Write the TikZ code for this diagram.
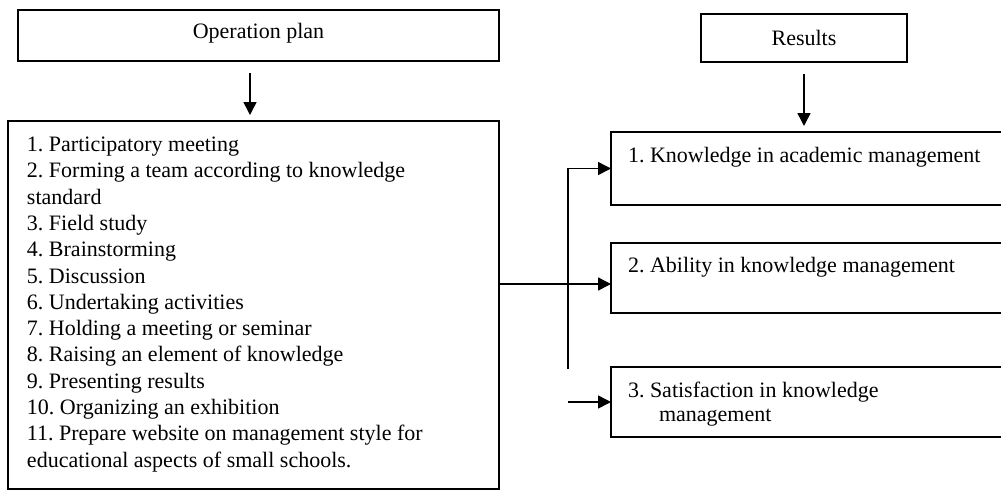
\documentclass[tikz,border=0pt]{standalone}
\usepackage{fontspec}
\setmainfont{Liberation Serif}
\usetikzlibrary{arrows.meta}
\begin{document}
\begin{tikzpicture}[x=1pt,y=-1pt,
  box/.style={draw, line width=1.5pt, inner sep=0pt, outer sep=0pt, anchor=north west},
  txt/.style={inner sep=0pt, outer sep=0pt, font=\fontsize{22pt}{26.3pt}\selectfont},
  arr/.style={line width=1.5pt, -{Triangle[length=13pt,width=13pt]}},
  ln/.style={line width=1.5pt}]
\clip (0,0) rectangle (1001,491);
% title boxes
\node[box, txt, minimum width=481pt, minimum height=51pt, text height=12pt, text depth=6pt] (op) at (18,10) {Operation plan};
\node[box, txt, minimum width=206pt, minimum height=48pt, text height=14.4pt, text depth=0pt] (res) at (701,14) {Results};
% plan box
\node[box, minimum width=491pt, minimum height=368pt] (plan) at (8,121) {};
\node[txt, anchor=north west, align=left] (plant) at (27,137) {%
1.\ Participatory meeting\\
2.\ Forming a team according to knowledge\\
standard\\
3.\ Field study\\
4.\ Brainstorming\\
5.\ Discussion\\
6.\ Undertaking activities\\
7.\ Holding a meeting or seminar\\
8.\ Raising an element of knowledge\\
9.\ Presenting results\\
10.\ Organizing an exhibition\\
11.\ Prepare website on management style for\\
educational aspects of small schools.};
% result boxes
\node[box, minimum width=400pt, minimum height=73pt] (r1) at (611,132) {};
\node[box, minimum width=400pt, minimum height=70pt] (r2) at (611,243) {};
\node[box, minimum width=400pt, minimum height=70pt] (r3) at (611,367) {};
\node[txt, anchor=base west] (t1) at (628,162) {1.\ Knowledge in academic management};
\node[txt, anchor=base west] (t2) at (628,272) {2.\ Ability in knowledge management};
\node[txt, anchor=north west, align=left, font=\fontsize{22pt}{24pt}\selectfont] (t3) at (628,382) {3.\ Satisfaction in knowledge\\\hspace*{31pt}management};
% connectors
\coordinate (opx) at (250,0);
\coordinate (my) at (0,284);
\coordinate (bus) at (568,369);
\coordinate (feed) at (568,0);
\draw[arr, shorten <=12pt, shorten >=6pt] (op.south -| opx) -- (plan.north -| opx);
\draw[arr, shorten <=12pt, shorten >=6pt] (res.south) -- (res.south |- r1.north);
\draw[arr] (plan.east |- my) -- (r2.west |- my);
\draw[arr] (bus) -- (bus |- r1.west) -- (r1.west);
\draw[arr] (feed |- r3.west) -- (r3.west);
\end{tikzpicture}
\end{document}
